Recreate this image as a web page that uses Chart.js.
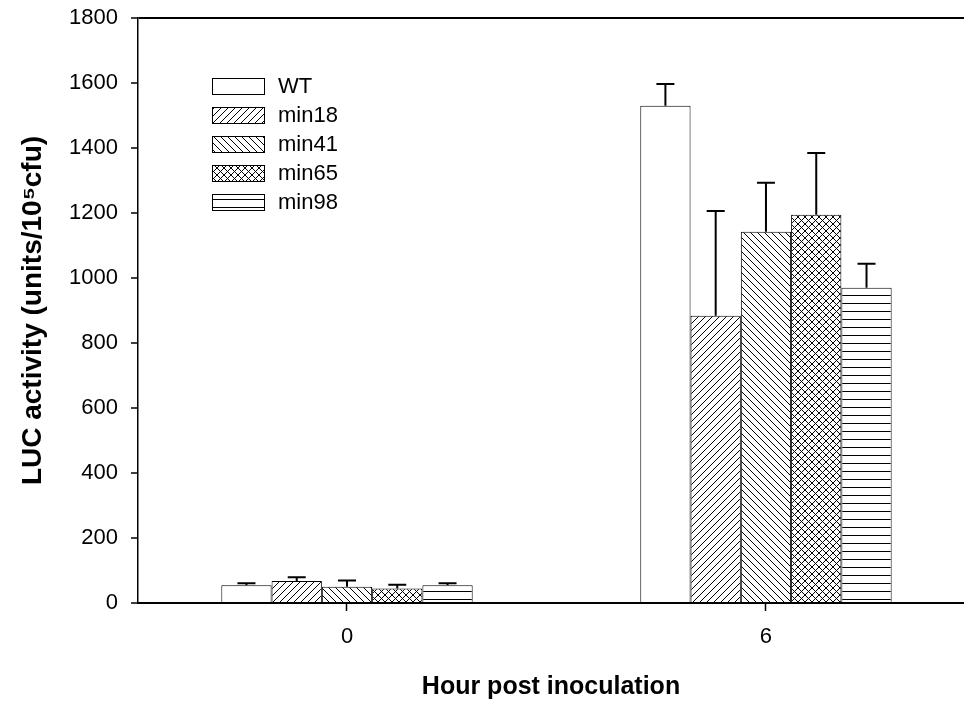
<!DOCTYPE html>
<html>
<head>
  <title>LUC activity</title>
  <script src="https://cdn.jsdelivr.net/npm/chart.js"></script>
  <style>
    html, body {
      margin: 0;
      padding: 0;
      background: #fff;
    }
    #wrap {
      width: 964px;
      height: 704px;
    }
  </style>
</head>
<body>

  <div id="wrap"><canvas id="lucChart"></canvas></div>

  <script>
    // hours post inoculation (x) and LUC activity per strain
    const hours = [0, 6];
    const wt    = [55, 1530];
    const min18 = [68, 884];
    const min41 = [50, 1142];
    const min65 = [45, 1195];
    const min98 = [55, 970];
    // upper error bars
    const wtErr    = [6, 67];
    const min18Err = [11, 322];
    const min41Err = [19, 151];
    const min65Err = [11, 190];
    const min98Err = [6, 74];

    const FONT = '"Liberation Sans", Arial, sans-serif';

    // black & white fill patterns like the original plot
    function hatch(kind, size) {
      const c = document.createElement('canvas');
      c.width = c.height = size;
      const g = c.getContext('2d');
      g.fillStyle = '#fff';
      g.fillRect(0, 0, size, size);
      g.strokeStyle = '#000';
      g.lineWidth = 1;
      g.beginPath();
      if (kind === '/' || kind === 'x') {
        g.moveTo(0, size); g.lineTo(size, 0);
        g.moveTo(-1, 1); g.lineTo(1, -1);
        g.moveTo(size - 1, size + 1); g.lineTo(size + 1, size - 1);
      }
      if (kind === '\\' || kind === 'x') {
        g.moveTo(0, 0); g.lineTo(size, size);
        g.moveTo(size - 1, -1); g.lineTo(size + 1, 1);
        g.moveTo(-1, size - 1); g.lineTo(1, size + 1);
      }
      if (kind === '-') {
        g.moveTo(0, size - 0.5); g.lineTo(size, size - 0.5);
      }
      g.stroke();
      return g.createPattern(c, 'repeat');
    }

    const series = [
      { label: 'WT',    vals: wt,    errs: wtErr,    fill: '#ffffff' },
      { label: 'min18', vals: min18, errs: min18Err, fill: hatch('/', 7) },
      { label: 'min41', vals: min41, errs: min41Err, fill: hatch('\\', 7) },
      { label: 'min65', vals: min65, errs: min65Err, fill: hatch('x', 7) },
      { label: 'min98', vals: min98, errs: min98Err, fill: hatch('-', 8) }
    ];

    // upward error bars with caps
    const errorBars = {
      id: 'errorBars',
      afterDatasetsDraw(chart) {
        const ctx = chart.ctx;
        const yScale = chart.scales.y;
        ctx.save();
        ctx.strokeStyle = '#000';
        ctx.lineWidth = 2;
        chart.data.datasets.forEach((ds, i) => {
          chart.getDatasetMeta(i).data.forEach((bar, j) => {
            const top = yScale.getPixelForValue(ds.data[j].y + ds.errs[j]);
            ctx.beginPath();
            ctx.moveTo(bar.x, bar.y);
            ctx.lineTo(bar.x, top);
            ctx.moveTo(bar.x - 9, top);
            ctx.lineTo(bar.x + 9, top);
            ctx.stroke();
          });
        });
        ctx.restore();
      }
    };

    // legend drawn inside the plot, top-left
    const boxLegend = {
      id: 'boxLegend',
      afterDraw(chart) {
        const { ctx, chartArea } = chart;
        ctx.save();
        ctx.font = '22px ' + FONT;
        ctx.textBaseline = 'middle';
        chart.data.datasets.forEach((ds, i) => {
          const x = chartArea.left + 74;
          const y = chartArea.top + 60 + i * 29;
          ctx.fillStyle = ds.backgroundColor;
          ctx.fillRect(x, y, 53, 17);
          ctx.strokeStyle = '#000';
          ctx.lineWidth = 1;
          ctx.strokeRect(x + 0.5, y + 0.5, 52, 16);
          ctx.fillStyle = '#000';
          ctx.fillText(ds.label, x + 66, y + 9);
        });
        ctx.restore();
      }
    };

    new Chart(document.getElementById('lucChart'), {
      type: 'bar',
      data: {
        datasets: series.map(s => ({
          label: s.label,
          data: hours.map((h, i) => ({ x: h, y: s.vals[i] })),
          errs: s.errs,
          backgroundColor: s.fill,
          borderColor: '#000',
          borderWidth: 1,
          categoryPercentage: 0.6,
          barPercentage: 1.0
        }))
      },
      options: {
        responsive: true,
        maintainAspectRatio: false,
        animation: false,
        layout: { padding: { top: 18, left: 0, right: 0, bottom: 0 } },
        plugins: {
          legend: { display: false },
          tooltip: { enabled: false }
        },
        scales: {
          x: {
            type: 'linear',
            min: -2.993,
            max: 8.836,
            offset: false,
            afterBuildTicks: scale => { scale.ticks = hours.map(v => ({ value: v })); },
            afterFit: scale => { scale.height = 101; },
            grid: {
              offset: false,
              drawOnChartArea: false,
              tickLength: 8,
              tickColor: '#000',
              tickWidth: 1.5
            },
            border: { color: '#000', width: 2 },
            ticks: {
              color: '#000',
              font: { family: FONT, size: 22 },
              padding: 13,
              autoSkip: false,
              maxRotation: 0
            },
            title: {
              display: true,
              text: 'Hour post inoculation',
              color: '#000',
              font: { family: FONT, size: 25, weight: 'bold' },
              padding: { top: 0, bottom: 2 }
            }
          },
          y: {
            min: 0,
            max: 1800,
            afterFit: scale => {
              scale.width = 138;
              scale.paddingTop = 0;
              scale.paddingBottom = 0;
            },
            grid: {
              color: c => (c.tick && c.tick.value === 1800 ? '#000' : 'rgba(0,0,0,0)'),
              lineWidth: 2,
              tickColor: '#000',
              tickWidth: 1.5,
              tickLength: 7
            },
            border: { color: '#000', width: 1.5 },
            ticks: {
              stepSize: 200,
              color: '#000',
              font: { family: FONT, size: 22 },
              padding: 13,
              callback: v => String(v)
            },
            title: {
              display: true,
              text: 'LUC activity (units/10⁵cfu)',
              color: '#000',
              font: { family: FONT, size: 28, weight: 'bold' },
              padding: { top: 16, bottom: 0 }
            }
          }
        }
      },
      plugins: [errorBars, boxLegend]
    });
  </script>

</body>
</html>
